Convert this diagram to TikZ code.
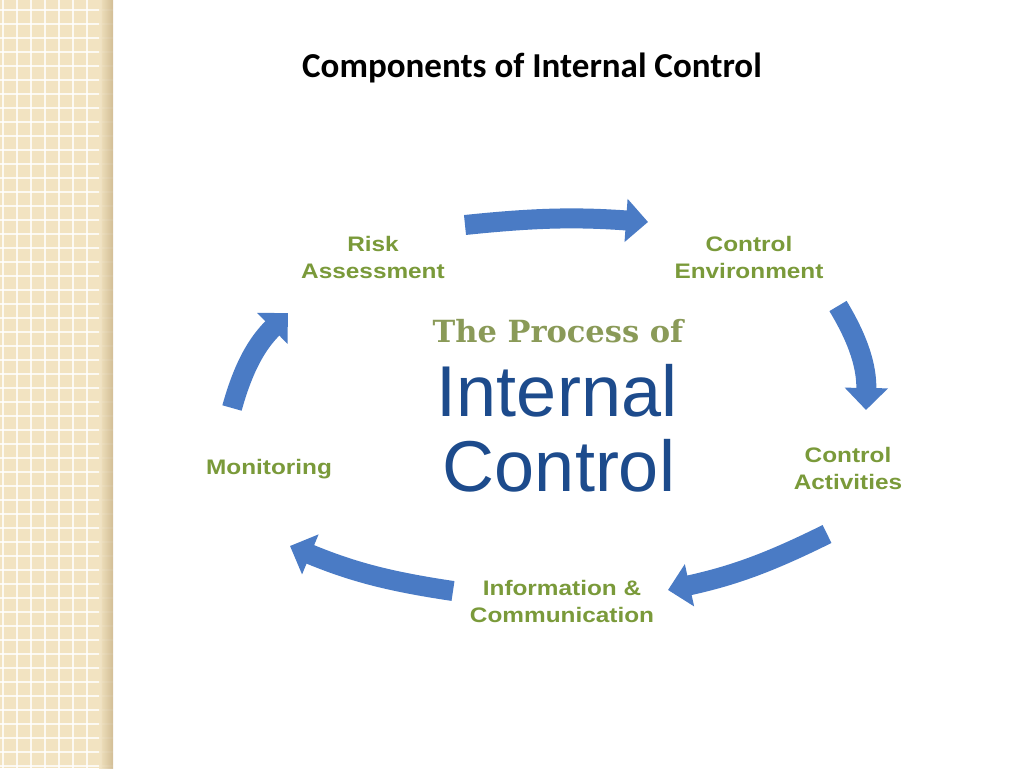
\documentclass[tikz,border=0pt]{standalone}
\usepackage{fontspec}
\setmainfont{Liberation Sans}
\newfontfamily\titlefont{Carlito}
\newfontfamily\labelfont[FakeStretch=1.16]{Liberation Sans}
\newfontfamily\processfont{DejaVu Serif}
\usepackage{tikz}
\usetikzlibrary{arrows.meta, positioning, calc}
\definecolor{StripeTan}{HTML}{F2E3C1}
\definecolor{StripeEdge}{HTML}{CDB88E}
\definecolor{ArrowBlue}{HTML}{4A7BC5}
\definecolor{LabelGreen}{HTML}{7A9A3A}
\definecolor{ProcessOlive}{HTML}{8A9A58}
\definecolor{DeepBlue}{HTML}{1D4B8C}
\tikzset{
  % Text styles
  titletext/.style={font=\titlefont\bfseries\fontsize{35}{35}\selectfont, text=black, inner sep=0pt},
  steplabel/.style={font=\labelfont\bfseries\fontsize{21}{27}\selectfont, text=LabelGreen, align=center, inner sep=0pt},
  processtext/.style={font=\processfont\bfseries\fontsize{30.5}{30.5}\selectfont, text=ProcessOlive, inner sep=0pt},
  bigtext/.style={font=\fontsize{72}{72}\selectfont, text=DeepBlue, inner sep=0pt},
  % Arrow styles
  cyclearrow/.style={-{Triangle[length=22pt,width=42pt]}, line width=20pt, draw=ArrowBlue}
}

\begin{document}
\begin{tikzpicture}[x=1pt, y=1pt]
  \useasboundingbox (0,0) rectangle (1024,768);
  \fill[white] (0,0) rectangle (1024,768);

  % Left stripe
  \fill[StripeTan] (0,0) rectangle (113,768);
  \foreach \gx in {3,17,...,111} {
    \draw[white, line width=1.3pt, opacity=0.8] (\gx,0) -- (\gx,768);
  }
  \foreach \gy in {2,16,...,768} {
    \draw[white, line width=1.3pt, opacity=0.8] (0,\gy) -- (113,\gy);
  }
  \shade[left color=StripeTan, right color=StripeEdge, opacity=0.85] (99,0) rectangle (113,768);

  % Title
  \node[titletext, anchor=base] (title) at (532,690) {Components of Internal Control};

  % Centre words
  \node[processtext, anchor=base] (processof) at (558,425) {The Process of};
  \node[bigtext, anchor=base] (internal) at (557,351) {Internal};
  \node[bigtext, anchor=base] (controlword) at (559,276) {Control};

  % Cycle steps
  \node[steplabel] (risk) at (373,510) {Risk\\Assessment};
  \node[steplabel] (environment) at (749,510) {Control\\Environment};
  \node[steplabel] (activities) at (848,300) {Control\\Activities};
  \node[steplabel] (infocom) at (562,167) {Information \&\\Communication};
  \node[steplabel] (monitoring) at (269,299) {Monitoring};

  % Arrow ends
  \coordinate (a1s) at (465,543);
  \coordinate (a1e) at (648,546);
  \coordinate (a2s) at (838,462);
  \coordinate (a2e) at (866,358);
  \coordinate (a3s) at (827,234);
  \coordinate (a3e) at (668,178);
  \coordinate (a4s) at (453,177);
  \coordinate (a4e) at (290,222);
  \coordinate (a5s) at (232,360);
  \coordinate (a5e) at (288,455);

  % Arrows
  \draw[cyclearrow] (a1s) to[bend left=5] (a1e);
  \draw[cyclearrow] (a2s) to[bend left=16] (a2e);
  \draw[cyclearrow] (a3s) to[bend left=7] (a3e);
  \draw[cyclearrow] (a4s) to[bend left=7] (a4e);
  \draw[cyclearrow] (a5s) to[bend left=15] (a5e);
\end{tikzpicture}
\end{document}
